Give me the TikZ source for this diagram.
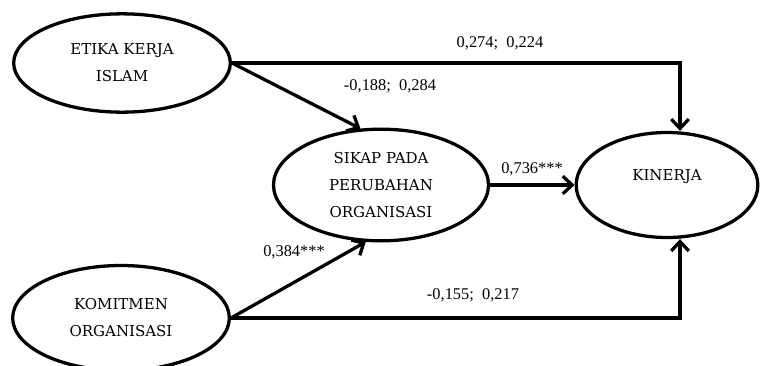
\documentclass[tikz,border=0pt]{standalone}
\usepackage{fontspec}
\setmainfont{Liberation Serif}
\newfontfamily\boxfont{DejaVu Serif}
\usetikzlibrary{shapes, positioning, arrows.meta}

\begin{document}
\begin{tikzpicture}[x=0.03cm, y=-0.03cm,
        latent/.style={ellipse, draw, line width=2.8pt, align=center, inner sep=0pt,
            font=\boxfont\fontsize{12.8}{23}\selectfont},
        path/.style={line width=2.8pt, -{Straight Barb[length=8pt, width=15pt]}},
        coef/.style={font=\fontsize{14}{16}\selectfont, inner sep=0pt}]
        \useasboundingbox (0, 0) rectangle (761, 365);

        \node[latent, minimum width=6.5cm, minimum height=2.95cm] (etika) at (122, 63) {ETIKA KERJA\\ISLAM};
        \node[latent, minimum width=6.5cm, minimum height=3.15cm] (komitmen) at (121, 318) {KOMITMEN\\ORGANISASI};
        \node[latent, minimum width=6.45cm, minimum height=3.35cm] (sikap) at (381, 185) {SIKAP PADA\\PERUBAHAN\\ORGANISASI};
        \node[latent, minimum width=5.45cm, minimum height=3.15cm] (kinerja) at (667, 185) {KINERJA\\[-6pt]};

        \coordinate (topbend) at (680, 63);
        \coordinate (botbend) at (680, 318);

        \draw[path] (etika.east) -- (topbend) -- (kinerja.north -| topbend);
        \draw[path] (etika.east) -- (sikap.110);
        \draw[path] (komitmen.east) -- (sikap.255);
        \draw[path] (sikap.east) -- (kinerja.west);
        \draw[path] (komitmen.east) -- (botbend) -- (kinerja.south -| botbend);

        \node[coef] (c1) at (500, 43) {0,274;\ \ 0,224};
        \node[coef] (c2) at (390, 86) {-0,188;\ \ 0,284};
        \node[coef] (c3) at (532, 169) {0,736***};
        \node[coef] (c4) at (294, 252) {0,384***};
        \node[coef] (c5) at (473, 295) {-0,155;\ \ 0,217};
    \end{tikzpicture}
\end{document}
